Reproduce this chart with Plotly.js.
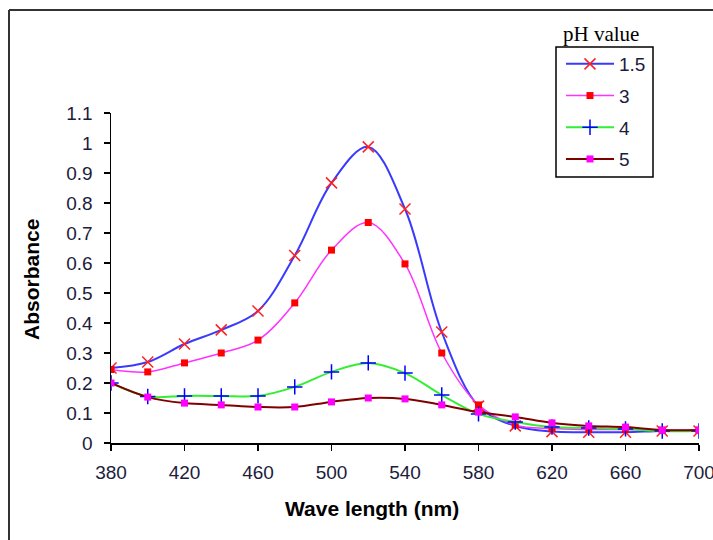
<!DOCTYPE html>
<html>
<head>
<meta charset="utf-8">
<script src="https://cdn.plot.ly/plotly-3.0.1.min.js"></script>
<style>
html,body{margin:0;padding:0;background:#fff;}
#chart{width:713px;height:540px;}
</style>
</head>
<body>
<div id="chart"></div>
<script>
const wavelength = [380,400,420,440,460,480,500,520,540,560,580,600,620,640,660,680,700];
const ph15 = [0.25,0.27,0.33,0.377,0.44,0.625,0.867,0.987,0.78,0.37,0.123,0.057,0.038,0.036,0.036,0.04,0.04];
const ph3  = [0.245,0.237,0.267,0.30,0.343,0.467,0.643,0.735,0.597,0.30,0.127,0.06,0.048,0.045,0.045,0.043,0.043];
const ph4  = [0.20,0.155,0.157,0.157,0.157,0.187,0.237,0.267,0.233,0.16,0.097,0.07,0.053,0.05,0.047,0.04,0.04];
const ph5  = [0.20,0.153,0.133,0.127,0.12,0.12,0.137,0.15,0.147,0.127,0.103,0.087,0.067,0.057,0.053,0.043,0.043];
const seriesNames = ['1.5','3','4','5'];
const xTicks = [380,420,460,500,540,580,620,660,700];
const yTicks = [0,0.1,0.2,0.3,0.4,0.5,0.6,0.7,0.8,0.9,1,1.1];

const traces = [
  {x: wavelength, y: ph15, name: seriesNames[0], legendgroup:'a', type:'scatter', mode:'lines+markers',
   line:{color:'#3a3aff', width:2, shape:'spline', smoothing:1},
   marker:{symbol:'x-thin-open', size:11, color:'#ff2020', line:{color:'#ff2020', width:1.5}}},
  {x: wavelength, y: ph3, name: seriesNames[1], legendgroup:'b', type:'scatter', mode:'lines+markers',
   line:{color:'#ff33ff', width:1.5, shape:'spline', smoothing:1},
   marker:{symbol:'square', size:7, color:'#ff0000'}},
  {x: wavelength, y: ph4, name: seriesNames[2], legendgroup:'c', type:'scatter', mode:'lines+markers',
   line:{color:'#33ee33', width:2, shape:'spline', smoothing:1},
   marker:{symbol:'cross-thin-open', size:11, color:'#0000ff', line:{color:'#0000ff', width:1.5}}},
  {x: wavelength, y: ph5, name: seriesNames[3], legendgroup:'d', type:'scatter', mode:'lines+markers',
   line:{color:'#800000', width:2, shape:'spline', smoothing:1},
   marker:{symbol:'square', size:7, color:'#ff00ff'}}
];

// plot area in pixels: x 111..699, y 113..443
const PX = x => (x - 111) / 588;
const PY = y => (443 - y) / 330;

const tickFont = {family:'Liberation Sans, Arial, sans-serif', size:19, color:'#1c1c3c'};
const titleFont = {family:'Liberation Sans, Arial, sans-serif', size:21, color:'#000'};
const layout = {
  width:713, height:540,
  margin:{l:111, r:14, t:113, b:97, pad:0},
  paper_bgcolor:'#ffffff', plot_bgcolor:'#ffffff',
  showlegend:true,
  xaxis:{range:[380,700], tickvals:xTicks, ticktext:xTicks.map(String), showgrid:false, zeroline:false,
    showline:true, linecolor:'#000', linewidth:1.5, ticks:'outside', ticklen:6, tickcolor:'#000', tickwidth:1.5,
    tickfont:tickFont, ticklabelstandoff:6, ticklabeloverflow:'allow'},
  yaxis:{range:[0,1.1], tickvals:yTicks, ticktext:yTicks.map(String), showgrid:false, zeroline:false,
    showline:true, linecolor:'#000', linewidth:1.5, ticks:'outside', ticklen:6, tickcolor:'#000', tickwidth:1.5,
    tickfont:tickFont, ticklabelstandoff:7},
  legend:{x:PX(561), xanchor:'left', y:PY(45), yanchor:'top',
    bgcolor:'rgba(0,0,0,0)', borderwidth:0,
    font:{family:'Liberation Sans, Arial, sans-serif', size:19, color:'#1c1c3c'},
    tracegroupgap:4, itemwidth:48},
  annotations:[
    {text:'pH value', xref:'paper', yref:'paper', x:PX(601), y:PY(34),
     xanchor:'center', yanchor:'middle', showarrow:false,
     font:{family:'Liberation Serif, Times New Roman, serif', size:21, color:'#000'}},
    {text:'<b>Wave length (nm)</b>', xref:'paper', yref:'paper', x:PX(372), y:PY(508),
     xanchor:'center', yanchor:'middle', showarrow:false, font:titleFont},
    {text:'<b>Absorbance</b>', xref:'paper', yref:'paper', x:PX(31), y:PY(279), textangle:-90,
     xanchor:'center', yanchor:'middle', showarrow:false, font:titleFont}
  ],
  shapes:[
    {type:'line', xref:'paper', yref:'paper', x0:PX(9), x1:PX(9), y0:PY(10), y1:PY(545), line:{color:'#333', width:2}},
    {type:'line', xref:'paper', yref:'paper', x0:PX(9), x1:PX(720), y0:PY(10), y1:PY(10), line:{color:'#333', width:2}},
    {type:'rect', xref:'paper', yref:'paper', x0:PX(556), x1:PX(653), y0:PY(47), y1:PY(177), line:{color:'#000', width:1.5}}
  ]
};
Plotly.newPlot('chart', traces, layout, {displayModeBar:false, staticPlot:true});
</script>
</body>
</html>
